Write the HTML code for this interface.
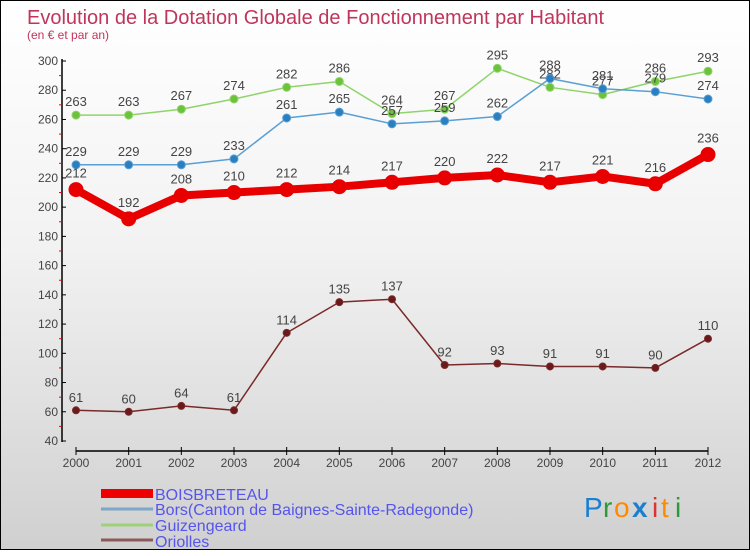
<!DOCTYPE html>
<html><head><meta charset="utf-8"><style>
body{margin:0;width:750px;height:550px;overflow:hidden}
#c{position:absolute;left:0;top:0;width:748px;height:548px;border:1px solid #000;background:linear-gradient(#ffffff 0%,#f2f2f2 45%,#d0d0d0 100%)}
text{font-family:"Liberation Sans",sans-serif}
</style></head><body>
<div id="c">
<svg id="s" width="750" height="550">
<text x="26" y="23" font-size="20" fill="#c0355a">Evolution de la Dotation Globale de Fonctionnement par Habitant</text>
<text x="26" y="38" font-size="12" fill="#c0355a">(en € et par an)</text>
<g id="axes"></g><g id="series"></g>
<g>
<rect x="100" y="488" width="52" height="9" fill="#e00"/>
<text x="154" y="499" font-size="16" fill="#5555ee">BOISBRETEAU</text>
<line x1="100" y1="508" x2="152" y2="508" stroke="#7fa6c6" stroke-width="3"/>
<text x="154" y="514" font-size="16" fill="#5555ee">Bors(Canton de Baignes-Sainte-Radegonde)</text>
<line x1="100" y1="524" x2="152" y2="524" stroke="#9ed27a" stroke-width="3"/>
<text x="154" y="530" font-size="16" fill="#5555ee">Guizengeard</text>
<line x1="100" y1="539" x2="152" y2="539" stroke="#8a5a5a" stroke-width="3"/>
<text x="154" y="546" font-size="16" fill="#5555ee">Oriolles</text>
</g>
<g font-size="28">
<text x="583" y="516" fill="#1a7fd0">P</text><text x="602" y="516" fill="#2a9a3a">r</text><text x="613" y="516" fill="#ff8a00">o</text><text x="631" y="516" fill="#1a7fd0" font-weight="bold">x</text><text x="651" y="516" fill="#e03030">i</text><text x="660" y="516" fill="#ff8a00">t</text><text x="674" y="516" fill="#2a9a3a">i</text>
</g>
</svg></div>
<script>
const years=[2000,2001,2002,2003,2004,2005,2006,2007,2008,2009,2010,2011,2012];
const yTicks=[40,60,80,100,120,140,160,180,200,220,240,260,280,300];
const boisbreteau=[212,192,208,210,212,214,217,220,222,217,221,216,236];
const bors=[229,229,229,233,261,265,257,259,262,288,281,279,274];
const guizengeard=[263,263,267,274,282,286,264,267,295,282,277,286,293];
const oriolles=[61,60,64,61,114,135,137,92,93,91,91,90,110];
const NS="http://www.w3.org/2000/svg";
function X(i){return 75+i*(707-75)/(years.length-1);}
function Y(v){return 440-(v-40)*(380/260);}
function mk(tag,attrs,parent){const e=document.createElementNS(NS,tag);for(const k in attrs)e.setAttribute(k,attrs[k]);parent.appendChild(e);return e;}
const ax=document.getElementById('axes');
let e=mk('line',{x1:61,y1:58,x2:61,y2:441,stroke:'#000','stroke-width':1.5},ax);


e=mk('line',{x1:75,y1:450,x2:707,y2:450,stroke:'#000','stroke-width':1.5},ax);


yTicks.forEach(v=>{
 mk('line',{x1:61,y1:Y(v),x2:65,y2:Y(v),stroke:'#000'},ax);
 if(v<300)mk('line',{x1:58,y1:Y(v+10),x2:61,y2:Y(v+10),stroke:'#e00'},ax);
 const t=mk('text',{x:57,y:Y(v)+4,'font-size':12,fill:'#444','text-anchor':'end'},ax);t.textContent=v;
 
 
});
years.forEach((yr,i)=>{
 mk('line',{x1:X(i),y1:446,x2:X(i),y2:454,stroke:'#000'},ax);
 const t=mk('text',{x:X(i),y:466,'font-size':12,fill:'#444','text-anchor':'middle'},ax);t.textContent=yr;
 
 
});
const sg=document.getElementById('series');
function draw(data,name,color,lw,r,dot){
 const g=mk('g',{},sg);
 
 
 const pl=mk('polyline',{points:data.map((v,i)=>X(i)+','+Y(v)).join(' '),fill:'none',stroke:color,'stroke-width':lw,'stroke-linejoin':'round'},g);
 
 
 data.forEach((v,i)=>{
  const c=mk('circle',{cx:X(i),cy:Y(v),r:r,fill:dot,stroke:color,'stroke-width':1},g);
  
  
  const t=mk('text',{x:X(i),y:Y(v)-r-5,'font-size':13,fill:'#444','text-anchor':'middle'},g);t.textContent=v;
  
  
 });
}
draw(guizengeard,'guizengeard','#8fd46a',1.5,4,'#6cc23a');
draw(bors,'bors','#5a9fd4',1.5,4,'#2a7fc0');
draw(oriolles,'oriolles','#7a2a2a',1.5,3.5,'#6a1a1a');
draw(boisbreteau,'boisbreteau','#e80000',8,7,'#e80000');
</script>
</body></html>
